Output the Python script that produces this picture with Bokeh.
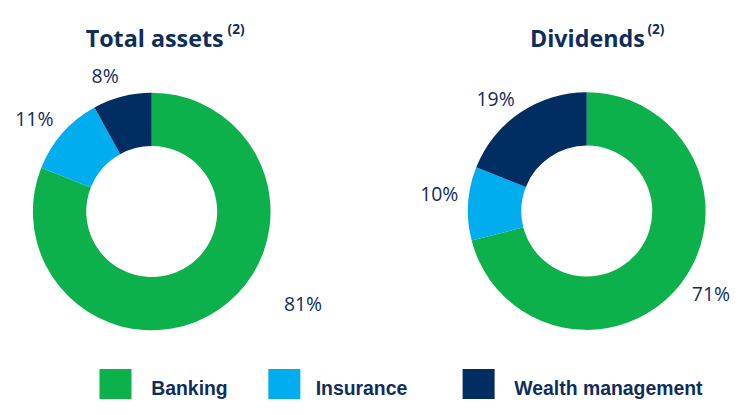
import math
from bokeh.plotting import figure
from bokeh.models import Range1d, ColumnDataSource
from bokeh.core.properties import value
from bokeh.embed import file_html
from bokeh.resources import INLINE

# ---- data ----
segments = ["Banking", "Insurance", "Wealth management"]
total_assets = [81, 11, 8]
dividends = [71, 10, 19]
chart_titles = ["Total assets", "Dividends"]
title_note = "(2)"

# ---- style / layout ----
COLORS = ["#0DB14B", "#00ADEF", "#002D62"]
TEXT = "#0F2D5C"
W, H = 736, 399
REF_W, REF_H = 752, 415
SXF = W / REF_W
SYF = H / REF_H
S = (SXF + SYF) / 2


def X(px):
    return px * SXF


def Y(py):
    return H - py * SYF


def fs(px):
    return f"{px * S:.1f}px"


p = figure(width=W, height=H, x_range=Range1d(0, W), y_range=Range1d(0, H),
           output_backend="svg", toolbar_location=None, min_border=0)
p.axis.visible = False
p.grid.visible = False
p.outline_line_color = None

charts = [
    dict(values=total_assets, title=chart_titles[0], cx=154.5, cy=219.5,
         title_x=87, note_x=232,
         label_off=[(156, -95), (-121, 96), (-48, 140)]),
    dict(values=dividends, title=chart_titles[1], cx=599, cy=219,
         title_x=541, note_x=661,
         label_off=[(128, -85), (-152, 18), (-94, 116)]),
]

R_OUT, R_IN = 122.5 * S, 67.5 * S

for ch in charts:
    vals = ch["values"]
    tot = float(sum(vals))
    starts, ends, c = [], [], 0.0
    for v in vals:
        starts.append(math.pi / 2 - 2 * math.pi * c / tot)
        c += v
        ends.append(math.pi / 2 - 2 * math.pi * c / tot)
    cx, cy = X(ch["cx"]), Y(ch["cy"])
    src = ColumnDataSource(dict(
        x=[cx] * len(vals), y=[cy] * len(vals), start=starts, end=ends,
        color=COLORS, seg=segments,
        lx=[cx + o[0] * S for o in ch["label_off"]],
        ly=[cy + o[1] * S for o in ch["label_off"]],
        label=[f"{v}%" for v in vals],
    ))
    p.annular_wedge(x="x", y="y", inner_radius=R_IN, outer_radius=R_OUT,
                    start_angle="start", end_angle="end", direction="clock",
                    fill_color="color", line_color=None, source=src)
    p.text(x="lx", y="ly", text="label", source=src, text_align="center",
           text_baseline="middle", text_font=value("Open Sans"),
           text_font_size=fs(20), text_color=TEXT)
    p.text(x=[X(ch["title_x"])], y=[Y(39)], text=[ch["title"]],
           text_align="left", text_baseline="alphabetic",
           text_font=value("Open Sans"), text_font_style="bold",
           text_font_size=fs(24), text_color=TEXT)
    p.text(x=[X(ch["note_x"])], y=[Y(29)], text=[title_note],
           text_align="left", text_baseline="alphabetic",
           text_font=value("Open Sans"), text_font_style="bold",
           text_font_size=fs(14), text_color=TEXT)

# legend
leg_sq_x = [117.5, 290, 488.5]
leg_tx_x = [154, 322, 525]
p.rect(x=[X(v) for v in leg_sq_x], y=[Y(400)] * 3, width=33 * S, height=33 * S,
       fill_color=COLORS, line_color=None)
p.text(x=[X(v) for v in leg_tx_x], y=[Y(403)] * 3, text=segments,
       text_align="left", text_baseline="alphabetic",
       text_font=value("Liberation Sans"), text_font_style="bold",
       text_font_size=fs(20), text_color=TEXT)

open("out.html", "w").write(file_html(p, INLINE))
